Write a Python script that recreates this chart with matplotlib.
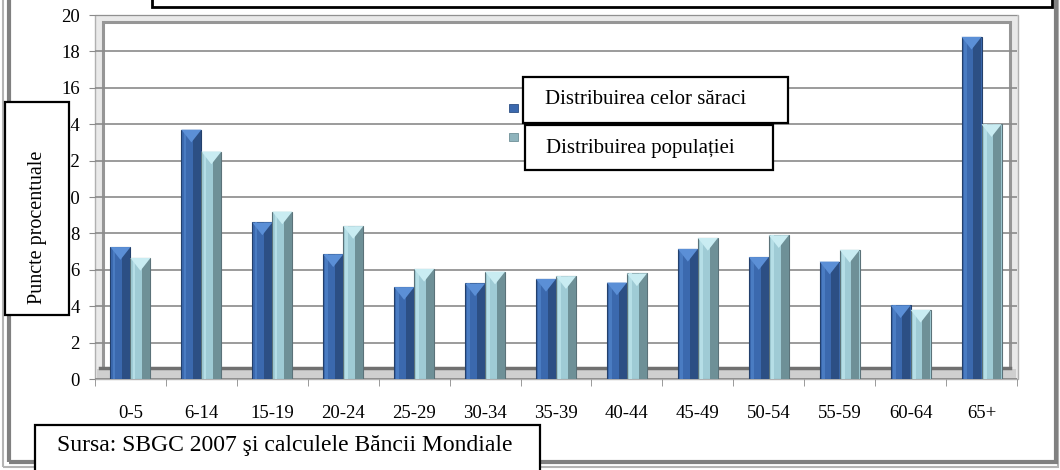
# Distributia pe grupe de varsta: saraci vs populatie
import matplotlib
matplotlib.use("Agg")
import matplotlib.pyplot as plt
from matplotlib.patches import Rectangle, Polygon
import numpy as np

plt.rcParams['font.family'] = ['Liberation Serif', 'DejaVu Serif']

# data
age_groups = ['0-5', '6-14', '15-19', '20-24', '25-29', '30-34', '35-39',
              '40-44', '45-49', '50-54', '55-59', '60-64', '65+']
poor_share = [7.25, 13.7, 8.6, 6.85, 5.05, 5.25, 5.5, 5.3, 7.15, 6.7, 6.45, 4.05, 18.8]
pop_share = [6.65, 12.5, 9.2, 8.4, 6.05, 5.9, 5.65, 5.8, 7.75, 7.9, 7.1, 3.8, 14.0]
y_ticks = list(range(0, 21, 2))

label_poor = 'Distribuirea celor săraci'
label_pop = 'Distribuirea populației'
y_title = 'Puncte procentuale'
source = 'Sursa: SBGC 2007 şi calculele Băncii Mondiale'

W, H = 1060, 470
fig = plt.figure(figsize=(W / 100, H / 100), dpi=100)
fig.patch.set_facecolor('white')

def fr(x0, y0, x1, y1):
    # pixel box (top-down) -> figure fraction (x, y, w, h)
    return x0 / W, 1 - y1 / H, (x1 - x0) / W, (y1 - y0) / H

# plot area: x 95..1017, value 0 at y=379, 20 at y=15
ax = fig.add_axes(fr(95, 15, 1017, 379))
ax.set_xlim(-0.5, len(age_groups) - 0.5)
ax.set_ylim(0, 20)
for s in ax.spines.values():
    s.set_visible(False)

def ar(x0, y0, x1, y1):
    # pixel box -> axes fraction
    return ((x0 - 95) / 922, (379 - y1) / 364), (x1 - x0) / 922, (y1 - y0) / 364

# 3D wall frame
xy, w, h = ar(95, 15, 1018, 379)
ax.add_patch(Rectangle(xy, w, h, transform=ax.transAxes, facecolor='#e9e9e9',
                       edgecolor='#b0b0b0', lw=1, zorder=0.1, clip_on=False))
xy, w, h = ar(103, 22, 1010, 370)
ax.add_patch(Rectangle(xy, w, h, transform=ax.transAxes, facecolor='white',
                       edgecolor='#969696', lw=2.2, zorder=0.2, clip_on=False))
xy, w, h = ar(97, 369, 1016, 378)
ax.add_patch(Rectangle(xy, w, h, transform=ax.transAxes, facecolor='#cfcfcf',
                       edgecolor='none', zorder=0.3, clip_on=False))
ax.plot([ar(100, 0, 0, 0)[0][0], ar(1010, 0, 0, 0)[0][0]], [11 / 364, 11 / 364],
        transform=ax.transAxes, color='#707070', lw=2.5, zorder=0.35, clip_on=False)
ax.axhline(0, color='#a0a0a0', lw=1.2, zorder=0.4)

# grid
ax.set_yticks(y_ticks)
ax.set_axisbelow(True)
ax.yaxis.grid(True, color='#8a8a8a', lw=1.2)
ax.tick_params(axis='y', length=4, color='#8a8a8a', labelsize=13.5, pad=7)

x = np.arange(len(age_groups))
ax.set_xticks(x)
ax.set_xticklabels(age_groups)
ax.set_xticks(np.arange(len(age_groups) + 1) - 0.5, minor=True)
ax.tick_params(axis='x', which='major', length=0, labelsize=13.5, pad=19)
ax.tick_params(axis='x', which='minor', length=5, color='#8a8a8a')

bw = 0.282

def bar3d(xc, vals, main, light, dark, edge, top):
    ax.bar(xc, vals, width=bw, color=main, edgecolor=edge, lw=0.8, zorder=3)
    ax.bar(xc - bw * 0.32, vals, width=bw * 0.14, color=light, lw=0, zorder=3.1)
    ax.bar(xc + bw * 0.29, vals, width=bw * 0.40, color=dark, lw=0, zorder=3.1)
    for xi, v in zip(xc, vals):
        ax.add_patch(Polygon([(xi - bw / 2, v), (xi + bw / 2, v), (xi, v - 0.7)],
                             closed=True, facecolor=top, edgecolor='none', zorder=3.2))

bar3d(x - bw / 2, poor_share, '#3b69ae', '#4a7cc2', '#2c4f84', '#23406c', '#5b8fd6')
bar3d(x + bw / 2, pop_share, '#9fcbd5', '#b5dee6', '#6e9097', '#5b7279', '#c9ecf2')

# text boxes drawn on top of the chart
def box(x0, y0, x1, y1, lw=1.6):
    b = fr(x0, y0, x1, y1)
    fig.add_artist(Rectangle(b[:2], b[2], b[3], transform=fig.transFigure,
                             facecolor='white', edgecolor='black', lw=lw, zorder=5))

# outer grey frame
fig.add_artist(Rectangle((3 / W, 1 - 467 / H), 1055 / W, 470 / H, transform=fig.transFigure,
                         facecolor='none', edgecolor='#b4b4b4', lw=1.5, zorder=4))
fig.add_artist(Rectangle((9 / W, 1 - 462 / H), 1047 / W, 470 / H, transform=fig.transFigure,
                         facecolor='none', edgecolor='#808080', lw=3, zorder=4))

box(152, -10, 1052, 7, lw=2)

box(5, 102, 69, 315)
fig.text(38 / W, 1 - 227 / H, y_title, rotation=90, ha='center', va='center',
         fontsize=14.5, zorder=6)

box(523, 77, 788, 123)
fig.text(545 / W, 1 - 100 / H, label_poor, ha='left', va='center', fontsize=15, zorder=6)
box(525, 125, 773, 170)
fig.text(546 / W, 1 - 148 / H, label_pop, ha='left', va='center', fontsize=15, zorder=6)

fig.add_artist(Rectangle((509 / W, 1 - 112 / H), 9 / W, 8 / H, transform=fig.transFigure,
                         facecolor='#3b69ae', edgecolor='#2c4f84', lw=0.6, zorder=6))
fig.add_artist(Rectangle((509 / W, 1 - 141 / H), 9 / W, 8 / H, transform=fig.transFigure,
                         facecolor='#8fb4bd', edgecolor='#6e9097', lw=0.6, zorder=6))

box(35, 425, 540, 480)
fig.text(57 / W, 1 - 446 / H, source, ha='left', va='center', fontsize=17, zorder=6)

fig.savefig('out.png', dpi=100, facecolor='white')
